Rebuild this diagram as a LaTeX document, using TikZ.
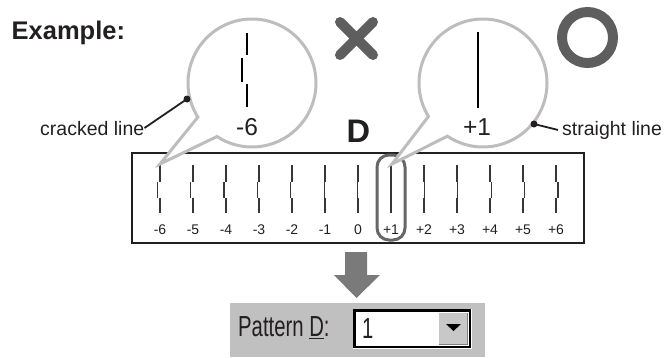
\documentclass[tikz,border=0pt]{standalone}
\usepackage{fontspec}
\usepackage{graphicx}
\setmainfont{Liberation Sans}
\usetikzlibrary{calc}
\definecolor{bubblegray}{HTML}{BDBDBD}
\definecolor{markgray}{HTML}{5E5E5E}
\definecolor{selgray}{HTML}{666666}
\definecolor{arrowgray}{HTML}{7A7A7A}
\definecolor{panelgray}{HTML}{C0C0C0}
\definecolor{buttongray}{HTML}{C8C8C8}
\definecolor{inkblack}{HTML}{231F20}
\begin{document}
\begin{tikzpicture}[x=1pt,y=1pt,
  bubble/.style={draw=bubblegray, line width=3pt, fill=white},
  tickline/.style={draw=inkblack!90, line width=1.2pt},
  ticklbl/.style={font=\fontsize{14}{16}\selectfont, inner sep=0pt, anchor=base, text=inkblack},
  lbl/.style={font=\fontsize{19.5}{22}\selectfont, inner sep=0pt, text=inkblack},
  biglbl/.style={font=\fontsize{24.5}{28}\selectfont, inner sep=0pt, anchor=base, text=inkblack},
  leader/.style={draw=inkblack, line width=1.8pt},
  markstroke/.style={draw=markgray, line width=10pt, line cap=round},
  uifont/.style={font=\fontsize{29}{32}\selectfont, inner sep=0pt, anchor=base west, text=inkblack}]
\path[use as bounding box] (0,0) rectangle (667,-357);

% title
\node[font=\fontsize{25.5}{28}\selectfont\bfseries, inner sep=0pt, anchor=base west, text=inkblack] (title) at (11.5,-39) {Example:};

% main box
\draw[inkblack, line width=2.4pt] (132,-153) rectangle (584,-243);

% ticks and labels
\foreach \k in {-6,...,6}{
  \pgfmathsetmacro\xx{160+(\k+6)*33}
  \pgfmathsetmacro\dd{0.4*(\k-1)}
  \ifnum\k=1
    \draw[tickline] (\xx,-165) -- (\xx,-213);
  \else
    \draw[tickline] (\xx,-165) -- (\xx,-181.5) (\xx+\dd,-181.5) -- (\xx+\dd,-197.5) (\xx,-197.5) -- (\xx,-213);
  \fi
  \node[ticklbl] (lab\k) at (\xx,-234) {\ifnum\k>0 +\fi\k};
}

% selection around +1
\draw[selgray, line width=3pt, rounded corners=12pt] (377,-155) rectangle (405,-240);

% left bubble
\coordinate (c1) at (252,-83);
\coordinate (tip1) at (160,-164);
\draw[bubble] ($(c1)+(212.2:64)$) arc[start angle=212.2, end angle=-123.2, radius=64] -- (tip1) -- cycle;
\draw[black, line width=2.2pt] (247,-33) -- (247,-55) (242,-58) -- (242,-82) (247,-84) -- (247,-107);
\node[biglbl] (bm6) at (247,-135) {-6};

% right bubble
\coordinate (c2) at (483,-83);
\coordinate (tip2) at (392,-164);
\draw[bubble] ($(c2)+(211.5:64)$) arc[start angle=211.5, end angle=-123.8, radius=64] -- (tip2) -- cycle;
\draw[black, line width=2.2pt] (478,-32) -- (478,-108);
\node[biglbl] (bp1) at (477,-135) {+1};

% leader labels
\node[lbl, anchor=base west] (cracked) at (40,-135) {cracked line};
\coordinate (dot1) at (187,-99);
\draw[leader] (cracked.east) -- (dot1);
\fill[inkblack] (dot1) circle (3.5);

\node[lbl, anchor=base west] (straight) at (562,-135) {straight line};
\coordinate (dot2) at (534,-124);
\draw[leader] (dot2) -- ([xshift=-4pt]straight.west);
\fill[inkblack] (dot2) circle (3.5);

% D
\node[font=\fontsize{32.6}{36}\selectfont\bfseries, inner sep=0pt, anchor=base, text=inkblack] (dlabel) at (358.5,-142) {D};

% X and O marks
\draw[markstroke] (340,-22) -- (373,-55) (373,-22) -- (340,-55);
\draw[draw=markgray, line width=10pt] (587.5,-37.5) circle (25.5);

% down arrow
\fill[arrowgray] (345,-252) -- (367,-252) -- (367,-275) -- (380,-275) -- (356.5,-298) -- (334,-275) -- (345,-275) -- cycle;

% UI panel
\fill[panelgray] (230,-303) rectangle (485,-357);
\node[uifont] (pattern) at (238,-336.5) {\scalebox{0.7}[1]{Pattern \underline{D}:}};
\fill[white] (353,-309) rectangle (472,-349);
\draw[black, line width=1.6pt] (354,-310) rectangle (470,-347);
\draw[black, line width=1pt] (355.5,-346) -- (355.5,-311.5) -- (469,-311.5);
\fill[buttongray] (438,-312) rectangle (468,-345);
\draw[white, line width=1pt] (438.5,-344.5) -- (438.5,-312.5) -- (467.5,-312.5);
\draw[gray, line width=1pt] (439,-344.5) -- (467.5,-344.5) -- (467.5,-313);
\fill[black] (446,-324) -- (461,-324) -- (453.5,-331) -- cycle;
\node[uifont] (value) at (362,-338) {\scalebox{0.7}[1]{1}};
\end{tikzpicture}
\end{document}
